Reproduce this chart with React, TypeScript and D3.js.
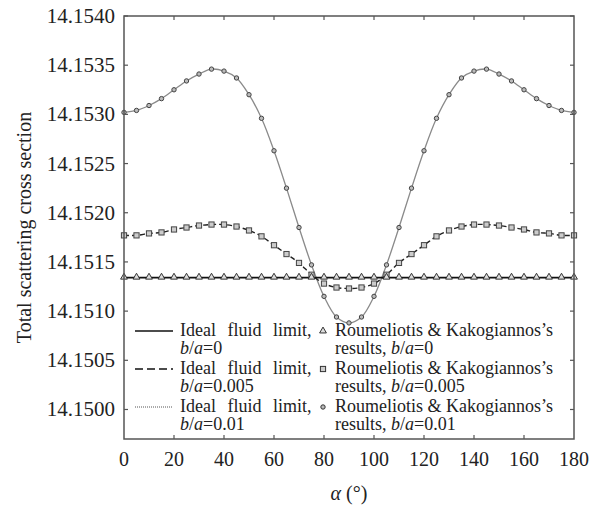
import React from 'react';
import * as d3 from 'd3';

// angle alpha in degrees, every 5 degrees
const alphas = [
  0, 5, 10, 15, 20, 25, 30, 35, 40, 45, 50, 55, 60, 65, 70, 75, 80, 85, 90,
  95, 100, 105, 110, 115, 120, 125, 130, 135, 140, 145, 150, 155, 160, 165, 170, 175, 180,
];

// b/a = 0
const ba0 = [
  14.15134, 14.15134, 14.15134, 14.15134, 14.15134, 14.15134, 14.15134, 14.15134, 14.15134, 14.15134,
  14.15134, 14.15134, 14.15134, 14.15134, 14.15134, 14.15134, 14.15134, 14.15134, 14.15134, 14.15134,
  14.15134, 14.15134, 14.15134, 14.15134, 14.15134, 14.15134, 14.15134, 14.15134, 14.15134, 14.15134,
  14.15134, 14.15134, 14.15134, 14.15134, 14.15134, 14.15134, 14.15134,
];

// b/a = 0.005
const ba005 = [
  14.15177, 14.15177, 14.15179, 14.1518, 14.15183, 14.15185, 14.15187, 14.15188, 14.15188, 14.15186,
  14.15182, 14.15176, 14.15167, 14.15158, 14.15149, 14.15137, 14.15128, 14.15124, 14.15123, 14.15124,
  14.15128, 14.15137, 14.15149, 14.15158, 14.15167, 14.15176, 14.15182, 14.15186, 14.15188, 14.15188,
  14.15187, 14.15185, 14.15183, 14.1518, 14.15179, 14.15177, 14.15177,
];

// b/a = 0.01
const ba01 = [
  14.15302, 14.15304, 14.15309, 14.15316, 14.15325, 14.15334, 14.15341, 14.15346, 14.15344, 14.15337,
  14.1532, 14.15296, 14.15263, 14.15225, 14.15185, 14.15147, 14.15115, 14.15094, 14.15088, 14.15094,
  14.15115, 14.15147, 14.15185, 14.15225, 14.15263, 14.15296, 14.1532, 14.15337, 14.15344, 14.15346,
  14.15341, 14.15334, 14.15325, 14.15316, 14.15309, 14.15304, 14.15302,
];

const xTicks = [0, 20, 40, 60, 80, 100, 120, 140, 160, 180];
const yTicks = [14.15, 14.1505, 14.151, 14.1515, 14.152, 14.1525, 14.153, 14.1535, 14.154];

const legendLines = ['b/a=0', 'b/a=0.005', 'b/a=0.01'];

const W = 596;
const H = 507;
const margin = { top: 16, right: 22, bottom: 68, left: 124 };

const App = () => {
  const x = d3.scaleLinear().domain([0, 180]).range([margin.left, W - margin.right]);
  const y = d3.scaleLinear().domain([14.1497, 14.154]).range([H - margin.bottom, margin.top]);

  const line = d3
    .line<number>()
    .x((d, i) => x(alphas[i]))
    .y(d => y(d))
    .curve(d3.curveCatmullRom);

  const x0 = x(0);
  const x1 = x(180);
  const y0 = y(14.1497);
  const y1 = y(14.154);
  const tick = 4;

  const triangle = d3.symbol().type(d3.symbolTriangle).size(20);

  const baLabel = (s: string) => (
    <>
      <tspan fontStyle="italic">b</tspan>/<tspan fontStyle="italic">a</tspan>
      {s.slice(3)}
    </>
  );

  const legendY = [331, 369, 407];

  return (
    <svg width={W} height={H} style={{ position: 'absolute', left: 0, top: 0, background: '#fff' }}>
      {/* curves */}
      <path d={line(ba01) || ''} fill="none" stroke="#8a8a8a" strokeWidth={1.3} />
      <path d={line(ba005) || ''} fill="none" stroke="#222" strokeWidth={1.4} strokeDasharray="5,3" />
      <path d={line(ba0) || ''} fill="none" stroke="#111" strokeWidth={1.6} />

      {/* markers */}
      {ba01.map((v, i) => (
        <circle key={'c' + i} cx={x(alphas[i])} cy={y(v)} r={2.2} fill="#bbb" stroke="#444" strokeWidth={1} />
      ))}
      {ba005.map((v, i) => (
        <rect
          key={'s' + i}
          x={x(alphas[i]) - 2.6}
          y={y(v) - 2.6}
          width={5.2}
          height={5.2}
          fill="#ccc"
          stroke="#444"
          strokeWidth={1}
        />
      ))}
      {ba0.map((v, i) => (
        <path
          key={'t' + i}
          d={triangle() || ''}
          transform={`translate(${x(alphas[i])},${y(v) - 0.5})`}
          fill="#ddd"
          stroke="#333"
          strokeWidth={1}
        />
      ))}

      {/* frame and ticks */}
      <rect x={x0} y={y1} width={x1 - x0} height={y0 - y1} fill="none" stroke="#555" strokeWidth={1.5} />
      {xTicks.slice(1, -1).map(t => (
        <g key={'xt' + t} stroke="#555" strokeWidth={1.2}>
          <line x1={x(t)} x2={x(t)} y1={y0} y2={y0 - tick} />
          <line x1={x(t)} x2={x(t)} y1={y1} y2={y1 + tick} />
        </g>
      ))}
      {yTicks.map(t => (
        <g key={'yt' + t} stroke="#555" strokeWidth={1.2}>
          <line x1={x0} x2={x0 + tick} y1={y(t)} y2={y(t)} />
          <line x1={x1} x2={x1 - tick} y1={y(t)} y2={y(t)} />
        </g>
      ))}

      {/* tick labels */}
      {xTicks.map(t => (
        <text
          key={'xl' + t}
          x={x(t)}
          y={466}
          textAnchor="middle"
          fontSize={20}
          fill="#222"
          style={{ fontFamily: "'Liberation Serif'" }}
        >
          {t}
        </text>
      ))}
      {yTicks.map(t => (
        <text
          key={'yl' + t}
          x={115}
          y={y(t) + 7}
          textAnchor="end"
          fontSize={21}
          fill="#222"
          style={{ fontFamily: "'Liberation Serif'" }}
        >
          {t.toFixed(4)}
        </text>
      ))}

      {/* axis titles */}
      <text
        transform={`translate(31,${(y0 + y1) / 2}) rotate(-90)`}
        textAnchor="middle"
        fontSize={20}
        fill="#222"
        style={{ fontFamily: "'Liberation Serif'" }}
      >
        Total scattering cross section
      </text>
      <text
        x={(x0 + x1) / 2}
        y={500}
        textAnchor="middle"
        fontSize={20}
        fill="#222"
        style={{ fontFamily: "'Liberation Serif'" }}
      >
        <tspan fontStyle="italic">α</tspan> (°)
      </text>

      {/* legend */}
      {legendLines.map((s, i) => (
        <g key={'lg' + i} fill="#222">
          <line
            x1={135}
            x2={173}
            y1={legendY[i]}
            y2={legendY[i]}
            stroke={i === 2 ? '#555' : '#111'}
            strokeWidth={i === 2 ? 1 : 1.6}
            strokeDasharray={i === 0 ? undefined : i === 1 ? '8,4' : '1,1'}
          />
          <text
            x={180}
            y={legendY[i] + 5}
            fontSize={18}
            wordSpacing={7}
            style={{ fontFamily: "'Liberation Serif'" }}
          >
            Ideal fluid limit,
          </text>
          <text x={180} y={legendY[i] + 23} fontSize={18} style={{ fontFamily: "'Liberation Serif'" }}>
            {baLabel(s)}
          </text>
          {i === 0 && (
            <path d={triangle() || ''} transform={`translate(323,${legendY[i]})`} fill="#ddd" stroke="#333" />
          )}
          {i === 1 && (
            <rect x={320.4} y={legendY[i] - 2.6} width={5.2} height={5.2} fill="#ccc" stroke="#333" />
          )}
          {i === 2 && <circle cx={323} cy={legendY[i]} r={2.2} fill="#bbb" stroke="#333" />}
          <text x={335} y={legendY[i] + 5} fontSize={18} style={{ fontFamily: "'Liberation Serif'" }}>
            Roumeliotis &amp; Kakogiannos’s
          </text>
          <text x={335} y={legendY[i] + 23} fontSize={18} style={{ fontFamily: "'Liberation Serif'" }}>
            results, {baLabel(s)}
          </text>
        </g>
      ))}
    </svg>
  );
};

export default App;
